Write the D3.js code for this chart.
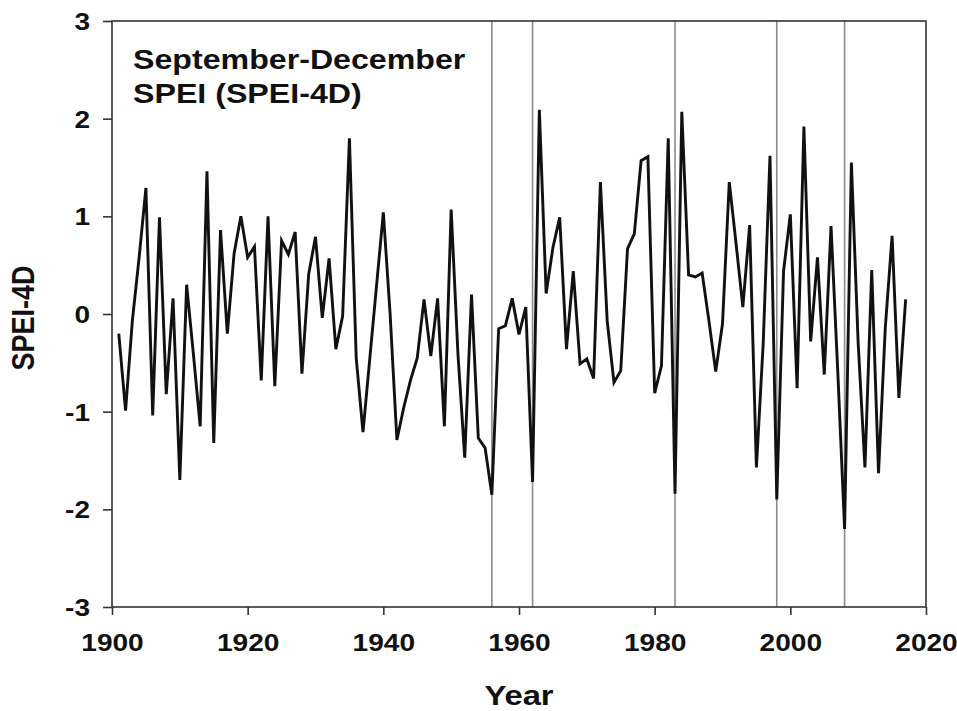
<!DOCTYPE html>
<html>
<head>
<meta charset="utf-8">
<script src="https://cdn.jsdelivr.net/npm/d3@7"></script>
<style>
  body { margin: 0; background: #fff; }
  text { font-family: "Liberation Sans", Arial, sans-serif; font-weight: bold; fill: #111; }
  .axis path, .axis line { stroke: #333; stroke-width: 1.6; }
  .line { fill: none; stroke: #111; stroke-width: 2.9; stroke-linejoin: miter; }
  .marker { stroke: #8c8c8c; stroke-width: 1.6; }
</style>
</head>
<body>
<svg id="plot"></svg>
<script>
// September-December SPEI values, 1901-2017
var startYear = 1901;
var spei = [
  -0.20, -0.99, -0.07, 0.58, 1.29, -1.04, 0.99, -0.82, 0.16, -1.70,
   0.30, -0.41, -1.15, 1.46, -1.32, 0.86, -0.20, 0.62, 1.00, 0.58,
   0.69, -0.68, 1.00, -0.74, 0.75, 0.61, 0.84, -0.61, 0.41, 0.79,
  -0.04, 0.57, -0.36, -0.02, 1.80, -0.45, -1.21, -0.46, 0.29, 1.04,
   0.00, -1.29, -0.96, -0.68, -0.45, 0.15, -0.43, 0.16, -1.15, 1.07,
  -0.41, -1.47, 0.20, -1.27, -1.37, -1.85, -0.15, -0.12, 0.16, -0.21,
   0.07, -1.72, 2.09, 0.21, 0.68, 0.99, -0.36, 0.44, -0.51, -0.46,
  -0.66, 1.35, -0.07, -0.70, -0.58, 0.67, 0.82, 1.57, 1.61, -0.81,
  -0.53, 1.80, -1.84, 2.07, 0.40, 0.38, 0.42, -0.07, -0.59, -0.10,
   1.35, 0.72, 0.07, 0.91, -1.57, -0.30, 1.62, -1.90, 0.44, 1.02,
  -0.76, 1.92, -0.28, 0.58, -0.62, 0.90, -0.60, -2.20, 1.55, -0.30,
  -1.57, 0.45, -1.63, -0.14, 0.80, -0.86, 0.15
];
var years = d3.range(startYear, startYear + spei.length);
var markerYears = [1956, 1962, 1983, 1998, 2008];
var xTicks = [1900, 1920, 1940, 1960, 1980, 2000, 2020];
var yTicks = [-3, -2, -1, 0, 1, 2, 3];
var titleLines = ['September-December', 'SPEI (SPEI-4D)'];

var margin = {top: 21, right: 31, bottom: 104, left: 112},
    width = 957 - margin.left - margin.right,
    height = 711 - margin.top - margin.bottom;

// the source figure's lettering is a bit wide, so stretch text horizontally
var sx = 1.17;

var x = d3.scaleLinear().domain([1900, 2020]).range([0, width]);
var y = d3.scaleLinear().domain([-3, 3]).range([height, 0]);

var svg = d3.select('#plot')
    .attr('width', width + margin.left + margin.right)
    .attr('height', height + margin.top + margin.bottom)
  .append('g')
    .attr('transform', 'translate(' + margin.left + ',' + margin.top + ')');

var data = years.map(function(yr, i) { return {year: yr, value: spei[i]}; });

// grey year markers
svg.selectAll('.marker')
    .data(markerYears)
  .enter().append('line')
    .attr('class', 'marker')
    .attr('x1', function(d) { return x(d); })
    .attr('x2', function(d) { return x(d); })
    .attr('y1', 0)
    .attr('y2', height);

var line = d3.line()
    .x(function(d) { return x(d.year); })
    .y(function(d) { return y(d.value); });

svg.append('path')
    .datum(data)
    .attr('class', 'line')
    .attr('d', line);

// frame
svg.append('rect')
    .attr('width', width)
    .attr('height', height)
    .attr('fill', 'none')
    .attr('stroke', '#333')
    .attr('stroke-width', 1.6);

var fmt = function(d) { return String(d); };  // plain hyphen minus

var xAxis = svg.append('g')
    .attr('class', 'axis')
    .attr('transform', 'translate(0,' + height + ')')
    .call(d3.axisBottom(x).tickValues(xTicks).tickFormat(fmt).tickSize(8).tickSizeOuter(0));
xAxis.selectAll('text')
    .attr('dy', 0)
    .attr('y', 44)
    .attr('transform', 'scale(' + sx + ',1)')
    .style('font-size', '24px');

var yAxis = svg.append('g')
    .attr('class', 'axis')
    .call(d3.axisLeft(y).tickValues(yTicks).tickFormat(fmt).tickSize(9).tickSizeOuter(0));
yAxis.selectAll('text')
    .attr('x', -22 / sx)
    .attr('dy', '0.36em')
    .attr('transform', 'scale(' + sx + ',1)')
    .style('font-size', '24px');
xAxis.select('.domain').remove();
yAxis.select('.domain').remove();

// title inside the plot
svg.append('text')
    .attr('transform', 'translate(21,0) scale(' + sx + ',1)')
    .style('font-size', '27.5px')
  .selectAll('tspan')
    .data(titleLines)
  .enter().append('tspan')
    .attr('x', 0)
    .attr('y', function(d, i) { return 48 + i * 34; })
    .text(function(d) { return d; });

svg.append('text')
    .attr('transform', 'translate(' + (width / 2) + ',' + (height + 98) + ') scale(' + sx + ',1)')
    .attr('text-anchor', 'middle')
    .style('font-size', '28px')
    .text('Year');

svg.append('text')
    .attr('transform', 'translate(' + (-78) + ',' + (height / 2 + 4) + ') scale(' + sx + ',1) rotate(-90)')
    .attr('text-anchor', 'middle')
    .style('font-size', '27px')
    .text('SPEI-4D');
</script>
</body>
</html>
